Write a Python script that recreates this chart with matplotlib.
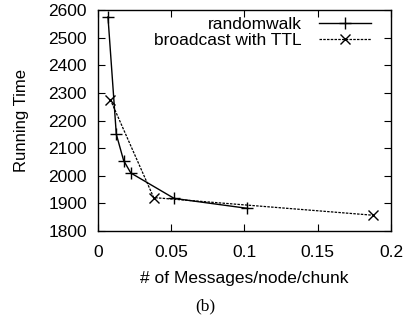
import matplotlib

matplotlib.use("Agg")

import matplotlib.pyplot as plt

# values
rw_x = [0.0068, 0.0125, 0.0175, 0.0224, 0.052, 0.102]
rw_y = [2575, 2150, 2055, 2010, 1918, 1882]
ttl_x = [0.0084, 0.0380, 0.188]
ttl_y = [2276, 1921, 1857]

x_ticks = [0, 0.05, 0.1, 0.15, 0.2]
x_labels = ["0", "0.05", "0.1", "0.15", "0.2"]
y_ticks = [1800, 1900, 2000, 2100, 2200, 2300, 2400, 2500, 2600]

plt.rcParams["font.family"] = ["Liberation Sans", "DejaVu Sans"]

fig = plt.figure(figsize=(4.06, 3.23), dpi=100)
ax = fig.add_axes([0.2414, 0.2848, 0.7216, 0.6842])

ax.plot(rw_x, rw_y, color="black", linewidth=1.0, marker="+",
        markersize=8, markeredgewidth=1.0, label="randomwalk")
ax.plot(ttl_x, ttl_y, color="black", linewidth=0.9, linestyle=(0, (2, 1)),
        marker="x", markersize=7.5, markeredgewidth=1.0, label="broadcast with TTL")

ax.set_xlim(0, 0.2)
ax.set_ylim(1800, 2600)
ax.set_xticks(x_ticks)
ax.set_xticklabels(x_labels)
ax.set_yticks(y_ticks)
ax.tick_params(direction="in", top=True, right=True, length=5, width=0.8,
               labelsize=12.5)
ax.tick_params(axis="x", pad=10)
ax.tick_params(axis="y", pad=8)
for s in ax.spines.values():
    s.set_linewidth(1.0)

ax.set_xlabel("# of Messages/node/chunk", fontsize=12.5, labelpad=8)
ax.set_ylabel("Running Time", fontsize=12, labelpad=14)

ax.legend(loc="upper right", frameon=False, markerfirst=False, fontsize=12.5,
          handlelength=3.0, handletextpad=1.0, borderaxespad=0, borderpad=0,
          labelspacing=0.05,
          bbox_to_anchor=(371 / 406, 1 - 17 / 323), bbox_transform=fig.transFigure)

fig.text(0.505, 0.05, "(b)", fontsize=12.5, ha="center", va="center",
         family="Liberation Serif")

fig.savefig("out.png", dpi=100)
